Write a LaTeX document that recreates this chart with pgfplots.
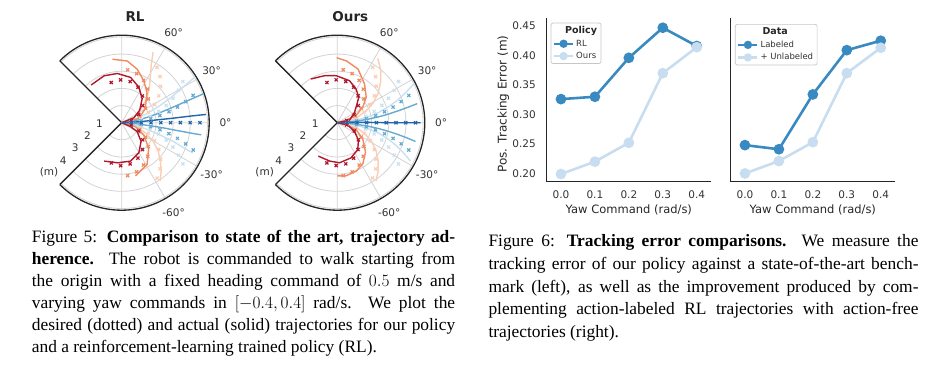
\documentclass[border=0pt]{standalone}
\usepackage{pgfplots}
\usepackage{pgfplotstable}
\pgfplotsset{compat=1.18}
\usepgfplotslibrary{polar}
\usepackage{fontspec}
\setmainfont{Liberation Serif}
\newfontfamily\dejavu{DejaVu Sans}

\definecolor{cA}{HTML}{B2182B}
\definecolor{cB}{HTML}{EF8A62}
\definecolor{cC}{HTML}{FBCDB4}
\definecolor{cD}{HTML}{C9E1F0}
\definecolor{cE}{HTML}{67A9CF}
\definecolor{cF}{HTML}{2166AC}
\definecolor{bdark}{HTML}{3A8AC2}
\definecolor{blight}{HTML}{C8DDF0}
\definecolor{spine}{HTML}{262626}
\definecolor{pgrid}{HTML}{D3D3D3}

% ---------- desired trajectories (shared) ----------
\pgfplotstableread{
th r
0 0.57
0 1.14
0 1.71
0 2.28
0 2.85
0 3.42
0 3.99
0 4.56
}\dZ
\pgfplotstableread{
th r
2.61 0.570
5.23 1.138
7.84 1.705
10.45 2.267
13.06 2.825
15.68 3.378
18.29 3.923
20.90 4.460
}\dPa
\pgfplotstableread{
th r
-2.61 0.570
-5.23 1.138
-7.84 1.705
-10.45 2.267
-13.06 2.825
-15.68 3.378
-18.29 3.923
-20.90 4.460
}\dNa
\pgfplotstableread{
th r
4.25 0.570
8.49 1.136
12.74 1.696
16.98 2.246
21.23 2.785
25.47 3.308
29.72 3.814
33.97 4.298
}\dPb
\pgfplotstableread{
th r
-4.25 0.570
-8.49 1.136
-12.74 1.696
-16.98 2.246
-21.23 2.785
-25.47 3.308
-29.72 3.814
-33.97 4.298
}\dNb
\pgfplotstableread{
th r
7.19 0.569
14.37 1.128
21.55 1.670
28.74 2.186
35.92 2.667
43.11 3.106
50.29 3.497
57.48 3.833
}\dPc
\pgfplotstableread{
th r
-7.19 0.569
-14.37 1.128
-21.55 1.670
-28.74 2.186
-35.92 2.667
-43.11 3.106
-50.29 3.497
-57.48 3.833
}\dNc
\pgfplotstableread{
th r
10.45 0.567
20.90 1.115
31.35 1.626
41.80 2.083
52.25 2.472
62.70 2.777
73.16 2.991
83.61 3.106
}\dPd
\pgfplotstableread{
th r
-10.45 0.567
-20.90 1.115
-31.35 1.626
-41.80 2.083
-52.25 2.472
-62.70 2.777
-73.16 2.991
-83.61 3.106
}\dNd
\pgfplotstableread{
th r
13.06 0.565
26.13 1.101
39.19 1.580
52.25 1.977
65.32 2.272
78.38 2.449
91.44 2.499
104.51 2.420
}\dPe
\pgfplotstableread{
th r
-13.06 0.565
-26.13 1.101
-39.19 1.580
-52.25 1.977
-65.32 2.272
-78.38 2.449
-91.44 2.499
-104.51 2.420
}\dNe

% ---------- RL actual ----------
\pgfplotstableread{
th r
0 0
3 1.0
4.5 2.0
5 3.0
5.5 4.0
5.6 4.94
}\rZ
\pgfplotstableread{
th r
0 0
8 0.8
12 1.6
15 2.4
17 3.2
18.5 4.1
19.5 5.06
}\rPa
\pgfplotstableread{
th r
0 0
-4 0.8
-6 1.6
-7 2.4
-8 3.2
-8.5 4.0
-8.7 4.69
}\rNa
\pgfplotstableread{
th r
0 0
14 0.8
20 1.6
24 2.4
27 3.2
30 4.1
32 5.05
}\rPb
\pgfplotstableread{
th r
0 0
-10 0.8
-15 1.6
-18 2.4
-20 3.2
-22 3.9
-23 4.5
}\rNb
\pgfplotstableread{
th r
0 0
20 0.7
35 1.4
45 2.1
53 2.7
58.6 3.2
63 3.8
66 4.5
}\rPc
\pgfplotstableread{
th r
0 0
-12 0.7
-22 1.4
-30 2.1
-38 2.7
-45 3.2
-51 3.65
-56.5 4.06
}\rNc
\pgfplotstableread{
th r
0 0
14 1.03
30.8 1.6
50.3 2.31
62.4 2.77
73.9 3.25
84.8 3.61
98.3 3.74
}\rPd
\pgfplotstableread{
th r
0 0
-16 0.84
-29 1.47
-43.3 2.16
-58.7 2.85
-75.5 3.2
}\rNd
\pgfplotstableread{
th r
0 0
22 0.77
34.8 1.28
49.6 1.84
64.2 2.3
78.9 2.69
95 2.88
110.4 2.92
129 2.83
}\rPe
\pgfplotstableread{
th r
0 0
-24 0.57
-30 1.04
-44 1.57
-60.4 2.02
-77 2.3
-96 2.35
-114.5 2.46
}\rNe

% ---------- Ours actual ----------
\pgfplotstableread{
th r
0 0
2 0.6
1 1.2
0.5 1.8
0.3 2.4
0 3.0
0 3.6
0 4.2
0 4.85
}\oZ
\pgfplotstableread{
th r
0 0
3 0.6
5 1.2
6.5 1.8
8 2.4
9.5 3.0
11 3.6
12.3 4.2
13.4 4.79
}\oPa
\pgfplotstableread{
th r
0 0
-3 0.6
-5 1.2
-6.5 1.8
-8 2.4
-9.5 3.0
-11 3.6
-12.3 4.15
-13.5 4.69
}\oNa
\pgfplotstableread{
th r
0 0
5 0.6
8 1.2
11 1.85
14 2.5
17.5 3.15
20.5 3.75
24 4.4
26.9 5.0
}\oPb
\pgfplotstableread{
th r
0 0
-5 0.6
-8 1.2
-11 1.85
-14 2.45
-17.5 3.05
-21 3.65
-24.5 4.25
-27.7 4.82
}\oNb
\pgfplotstableread{
th r
0 0
8 0.6
15 1.2
22 1.8
29 2.4
36 2.95
43 3.45
50 3.95
57.8 4.43
}\oPc
\pgfplotstableread{
th r
0 0
-8 0.6
-15 1.2
-22 1.75
-29 2.3
-36 2.8
-43 3.25
-50 3.7
-56.3 4.07
}\oNc
\pgfplotstableread{
th r
0 0
15.5 0.56
21.6 1.19
31.7 1.75
41.4 2.25
54.9 2.76
68.8 3.35
81.5 3.64
90.6 3.79
}\oPd
\pgfplotstableread{
th r
0 0
-15 0.58
-20.7 1.19
-32.8 1.77
-46.2 2.38
-58.2 2.82
-68.5 3.03
-80.8 3.14
-90 3.1
}\oNd
\pgfplotstableread{
th r
0 0
11.9 0.73
30.5 1.16
42.1 1.52
50 1.95
61 2.25
73.8 2.55
91.3 2.74
104.9 2.84
121.3 2.98
}\oPe
\pgfplotstableread{
th r
0 0
-12 0.62
-27.5 1.13
-39.1 1.59
-52.8 1.97
-68.7 2.2
-86.8 2.34
-101.1 2.28
-119.6 2.24
}\oNe

\tikzset{plab/.style={font=\dejavu\fontsize{10.5}{12}\selectfont, text=black!80, inner sep=0pt}}

\pgfplotsset{
  polarstyle/.style={
    scale only axis, width=175pt, height=175pt,
    xmin=-135, xmax=135, ymin=0, ymax=5.1,
    xtick={-90,-60,-30,0,30,60,90}, ytick={1,2,3,4,5},
    xticklabels={}, yticklabels={},
    major tick length=0pt,
    xmajorgrids, ymajorgrids,
    major grid style={draw=pgrid, line width=0.8pt},
    axis line style={draw=spine, line width=1.3pt},
    clip=false,
  },
  des/.style={only marks, mark=x, mark size=2.2pt, #1, mark options={solid, line width=1.2pt}},
  act/.style={no markers, line width=1.4pt, #1},
  linechart/.style={
    scale only axis, width=164.3pt, height=163.4pt,
    xmin=-0.042, xmax=0.442, ymin=0.186, ymax=0.463,
    axis lines*=left,
    axis line style={-, draw=spine, line width=1.2pt},
    major tick length=0pt,
    xtick={0,0.1,0.2,0.3,0.4}, xticklabels={0.0,0.1,0.2,0.3,0.4},
    tick label style={font=\dejavu\fontsize{10.5}{12}\selectfont, text=black!80},
    xticklabel style={anchor=north, inner sep=0pt, yshift=-8.8pt},
    yticklabel style={anchor=east, inner sep=0pt, xshift=-10.7pt},
    every axis x label/.style={at={(axis description cs:0.5,-0.173)}, anchor=center,
      font=\dejavu\fontsize{11.5}{13}\selectfont, text=spine},
    every axis y label/.style={at={(axis description cs:-0.264,0.475)}, rotate=90, anchor=center,
      font=\dejavu\fontsize{12}{14}\selectfont, text=spine},
    clip=false,
    legend cell align=left,
    legend image code/.code={\draw[mark repeat=2,mark phase=2,##1] plot coordinates {(0pt,0pt) (9.5pt,0pt) (19pt,0pt)};},
    legend image post style={mark size=3pt, line width=2.2pt},
    legend style={anchor=north west, draw=black!22, fill=white, rounded corners=2pt, line width=0.7pt,
      font=\dejavu\fontsize{8.5}{10}\selectfont, text=black!80, inner xsep=2pt, inner ysep=1.5pt,
      row sep=0.6pt},
  },
  dser/.style={bdark, line width=2.6pt, mark=*, mark size=4pt},
  lser/.style={blight, line width=2.6pt, mark=*, mark size=4pt},
}

\begin{document}
\begin{tikzpicture}
\useasboundingbox (0,0) rectangle (950pt,376pt);

% ================= RL polar =================
\begin{polaraxis}[polarstyle, at={(121.7pt,253.3pt)}, anchor=origin]
\addplot[des=cC] table[x=th,y=r]{\dPc};
\addplot[des=cC] table[x=th,y=r]{\dNc};
\addplot[act=cC] table[x=th,y=r]{\rPc};
\addplot[act=cC] table[x=th,y=r]{\rNc};
\addplot[des=cD] table[x=th,y=r]{\dPb};
\addplot[des=cD] table[x=th,y=r]{\dNb};
\addplot[act=cD] table[x=th,y=r]{\rPb};
\addplot[act=cD] table[x=th,y=r]{\rNb};
\addplot[des=cB] table[x=th,y=r]{\dPd};
\addplot[des=cB] table[x=th,y=r]{\dNd};
\addplot[act=cB] table[x=th,y=r]{\rPd};
\addplot[act=cB] table[x=th,y=r]{\rNd};
\addplot[des=cE] table[x=th,y=r]{\dPa};
\addplot[des=cE] table[x=th,y=r]{\dNa};
\addplot[act=cE] table[x=th,y=r]{\rPa};
\addplot[act=cE] table[x=th,y=r]{\rNa};
\addplot[des=cA] table[x=th,y=r]{\dPe};
\addplot[des=cA] table[x=th,y=r]{\dNe};
\addplot[act=cA] table[x=th,y=r]{\rPe};
\addplot[act=cA] table[x=th,y=r]{\rNe};
\addplot[des=cF] table[x=th,y=r]{\dZ};
\addplot[act=cF] table[x=th,y=r]{\rZ};
\node[plab] at (axis cs:0,6.05) {0°};
\node[plab] at (axis cs:30,6.05) {30°};
\node[plab] at (axis cs:60,6.05) {60°};
\node[plab] at (axis cs:-30,6.05) {-30°};
\node[plab] at (axis cs:-60,6.05) {-60°};
\node[plab, xshift=-10pt, yshift=11pt] at (axis cs:-135,1) {1};
\node[plab, xshift=-10pt, yshift=11pt] at (axis cs:-135,2) {2};
\node[plab, xshift=-10pt, yshift=11pt] at (axis cs:-135,3) {3};
\node[plab, xshift=-10pt, yshift=11pt] at (axis cs:-135,4) {4};
\node[plab, xshift=-12pt, yshift=11pt] at (axis cs:-135,5) {(m)};
\end{polaraxis}

% ================= Ours polar =================
\begin{polaraxis}[polarstyle, at={(337.3pt,253.3pt)}, anchor=origin]
\addplot[des=cC] table[x=th,y=r]{\dPc};
\addplot[des=cC] table[x=th,y=r]{\dNc};
\addplot[act=cC] table[x=th,y=r]{\oPc};
\addplot[act=cC] table[x=th,y=r]{\oNc};
\addplot[des=cD] table[x=th,y=r]{\dPb};
\addplot[des=cD] table[x=th,y=r]{\dNb};
\addplot[act=cD] table[x=th,y=r]{\oPb};
\addplot[act=cD] table[x=th,y=r]{\oNb};
\addplot[des=cB] table[x=th,y=r]{\dPd};
\addplot[des=cB] table[x=th,y=r]{\dNd};
\addplot[act=cB] table[x=th,y=r]{\oPd};
\addplot[act=cB] table[x=th,y=r]{\oNd};
\addplot[des=cE] table[x=th,y=r]{\dPa};
\addplot[des=cE] table[x=th,y=r]{\dNa};
\addplot[act=cE] table[x=th,y=r]{\oPa};
\addplot[act=cE] table[x=th,y=r]{\oNa};
\addplot[des=cA] table[x=th,y=r]{\dPe};
\addplot[des=cA] table[x=th,y=r]{\dNe};
\addplot[act=cA] table[x=th,y=r]{\oPe};
\addplot[act=cA] table[x=th,y=r]{\oNe};
\addplot[des=cF] table[x=th,y=r]{\dZ};
\addplot[act=cF] table[x=th,y=r]{\oZ};
\node[plab] at (axis cs:0,6.05) {0°};
\node[plab] at (axis cs:30,6.05) {30°};
\node[plab] at (axis cs:60,6.05) {60°};
\node[plab] at (axis cs:-30,6.05) {-30°};
\node[plab] at (axis cs:-60,6.05) {-60°};
\node[plab, xshift=-10pt, yshift=11pt] at (axis cs:-135,1) {1};
\node[plab, xshift=-10pt, yshift=11pt] at (axis cs:-135,2) {2};
\node[plab, xshift=-10pt, yshift=11pt] at (axis cs:-135,3) {3};
\node[plab, xshift=-10pt, yshift=11pt] at (axis cs:-135,4) {4};
\node[plab, xshift=-12pt, yshift=11pt] at (axis cs:-135,5) {(m)};
\end{polaraxis}

\node[font=\dejavu\bfseries\fontsize{13.5}{15}\selectfont, text=spine, anchor=base] at (135pt,354.3pt) {RL};
\node[font=\dejavu\bfseries\fontsize{13.5}{15}\selectfont, text=spine, anchor=base] at (350.3pt,354.3pt) {Ours};

% ================= Line chart left =================
\begin{axis}[linechart, at={(546.7pt,194.3pt)}, anchor=south west,
  ytick={0.2,0.25,0.3,0.35,0.4,0.45}, yticklabels={0.20,0.25,0.30,0.35,0.40,0.45},
  xlabel={Yaw Command (rad/s)}, ylabel={Pos. Tracking Error (m)},
  legend style={at={(axis description cs:0.024,0.973)}}]
\addlegendimage{empty legend}
\addlegendentry{\hspace*{-11pt}{\fontsize{9.5}{10}\selectfont\bfseries\color{spine}Policy}}
\addplot[dser] coordinates {(0,0.326) (0.1,0.330) (0.2,0.396) (0.3,0.447) (0.4,0.416)};
\addlegendentry{RL}
\addplot[lser] coordinates {(0,0.199) (0.1,0.220) (0.2,0.252) (0.3,0.370) (0.4,0.414)};
\addlegendentry{Ours}
\end{axis}

% ================= Line chart right =================
\begin{axis}[linechart, at={(730.7pt,194.3pt)}, anchor=south west,
  ytick=\empty,
  xlabel={Yaw Command (rad/s)},
  legend style={at={(axis description cs:0.026,0.965)}}]
\addlegendimage{empty legend}
\addlegendentry{\hspace*{2pt}{\fontsize{9.5}{10}\selectfont\bfseries\color{spine}Data}}
\addplot[dser] coordinates {(0,0.248) (0.1,0.241) (0.2,0.334) (0.3,0.409) (0.4,0.425)};
\addlegendentry{Labeled}
\addplot[lser] coordinates {(0,0.200) (0.1,0.221) (0.2,0.253) (0.3,0.370) (0.4,0.413)};
\addlegendentry{+ Unlabeled}
\end{axis}

% ================= Captions =================
\node[anchor=base west, inner sep=0pt] at (31.7pt,133.5pt) {\parbox[t]{423.3pt}{\fontsize{17.4}{22}\selectfont
\tolerance=10000\hyphenpenalty=10000\exhyphenpenalty=10000
Figure 5: \textbf{Comparison to state of the art, trajectory ad-}\linebreak
\textbf{herence.} The robot is commanded to walk starting from\linebreak
the origin with a fixed heading command of $0.5$ m/s and\linebreak
varying yaw commands in $[-0.4, 0.4]$ rad/s. We plot the\linebreak
desired (dotted) and actual (solid) trajectories for our policy\linebreak
and a reinforcement-learning trained policy (RL).}};

\node[anchor=base west, inner sep=0pt] at (488.3pt,129.5pt) {\parbox[t]{430pt}{\fontsize{17.4}{22.8}\selectfont
\tolerance=10000\hyphenpenalty=10000\exhyphenpenalty=10000
Figure 6: \textbf{Tracking error comparisons.} We measure the\linebreak
tracking error of our policy against a state-of-the-art bench-\linebreak
mark (left), as well as the improvement produced by com-\linebreak
plementing action-labeled RL trajectories with action-free\linebreak
trajectories (right).}};
\end{tikzpicture}
\end{document}
